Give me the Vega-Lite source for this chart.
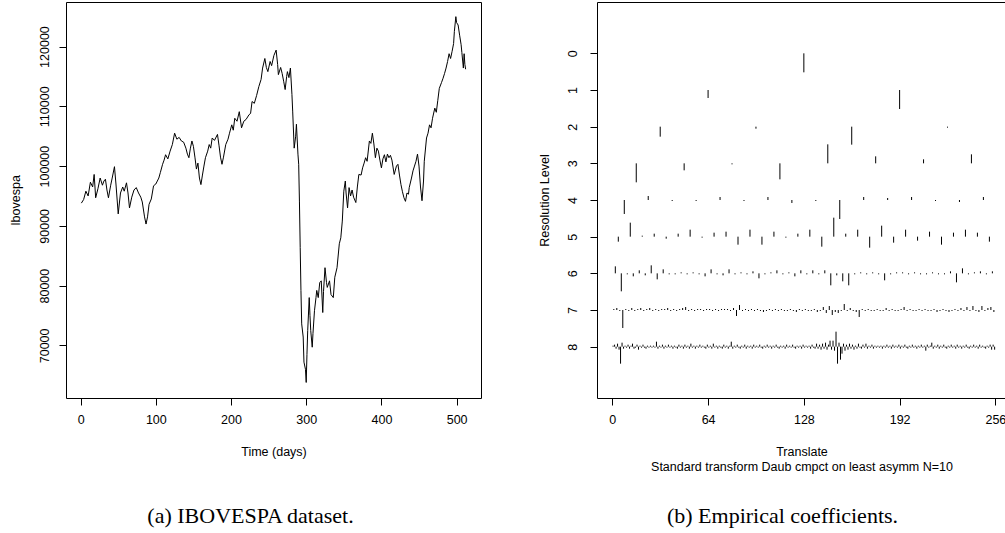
{
"$schema": "https://vega.github.io/schema/vega-lite/v6.json",
"background": "white",
"padding": {"left": 8, "top": 1, "right": 0, "bottom": 0},
"spacing": 55,
"config": {
  "font": "Liberation Sans",
  "view": {"stroke": "#000", "strokeWidth": 1},
  "axis": {"labelFont": "Liberation Sans", "labelFontSize": 12.5, "labelColor": "#000", "titleFont": "Liberation Sans", "titleFontSize": 12.5, "titleFontWeight": "normal", "titleColor": "#000", "tickColor": "#000", "tickSize": 7, "domainColor": "#000", "grid": false, "labelOverlap": false, "labelFlush": false}
},
"datasets": {
"ibov": [
{"day":1,"value":93800},{"day":4,"value":94400},{"day":7,"value":95800},{"day":10,"value":95000},{"day":13,"value":97300},{"day":16,"value":96500},{"day":18,"value":98600},{"day":20,"value":94700},{"day":23,"value":96200},{"day":26,"value":98000},{"day":29,"value":96800},{"day":31,"value":97500},{"day":33,"value":97800},{"day":35,"value":96000},{"day":37,"value":94700},{"day":40,"value":96800},{"day":42,"value":98000},{"day":45,"value":99900},{"day":47,"value":97000},{"day":50,"value":92000},{"day":53,"value":95500},{"day":56,"value":96500},{"day":58,"value":95800},{"day":61,"value":97200},{"day":63,"value":95500},{"day":65,"value":93000},{"day":68,"value":94800},{"day":71,"value":96000},{"day":74,"value":96400},{"day":77,"value":95500},{"day":80,"value":94800},{"day":82,"value":94000},{"day":85,"value":91500},{"day":87,"value":90300},{"day":89,"value":91500},{"day":91,"value":93600},{"day":94,"value":94500},{"day":97,"value":96700},{"day":100,"value":97000},{"day":102,"value":97500},{"day":104,"value":98000},{"day":106,"value":98900},{"day":109,"value":100300},{"day":111,"value":101000},{"day":113,"value":101900},{"day":116,"value":101200},{"day":119,"value":102500},{"day":122,"value":103600},{"day":125,"value":105500},{"day":128,"value":104500},{"day":131,"value":104800},{"day":134,"value":104200},{"day":137,"value":104000},{"day":140,"value":103000},{"day":142,"value":102000},{"day":144,"value":101400},{"day":146,"value":103000},{"day":148,"value":104200},{"day":150,"value":103300},{"day":152,"value":101500},{"day":154,"value":99500},{"day":156,"value":100500},{"day":158,"value":98000},{"day":160,"value":96900},{"day":162,"value":98500},{"day":164,"value":100000},{"day":166,"value":101400},{"day":169,"value":102500},{"day":171,"value":103600},{"day":173,"value":103000},{"day":175,"value":104700},{"day":178,"value":104300},{"day":182,"value":105300},{"day":184,"value":103500},{"day":186,"value":101500},{"day":188,"value":100300},{"day":190,"value":101500},{"day":193,"value":103600},{"day":196,"value":104500},{"day":198,"value":105500},{"day":201,"value":106900},{"day":203,"value":106000},{"day":205,"value":108000},{"day":208,"value":107500},{"day":211,"value":109100},{"day":214,"value":106400},{"day":217,"value":107500},{"day":220,"value":107800},{"day":224,"value":108600},{"day":226,"value":108800},{"day":228,"value":110800},{"day":231,"value":110500},{"day":234,"value":111800},{"day":237,"value":113300},{"day":240,"value":114500},{"day":242,"value":116400},{"day":245,"value":118000},{"day":247,"value":116500},{"day":249,"value":115800},{"day":252,"value":117500},{"day":254,"value":116800},{"day":257,"value":118500},{"day":260,"value":119400},{"day":262,"value":117000},{"day":263,"value":115300},{"day":266,"value":116500},{"day":268,"value":115500},{"day":270,"value":114200},{"day":272,"value":112800},{"day":274,"value":115000},{"day":275,"value":115800},{"day":277,"value":114800},{"day":279,"value":116400},{"day":281,"value":112000},{"day":282,"value":109200},{"day":284,"value":103000},{"day":286,"value":105000},{"day":287,"value":107000},{"day":289,"value":102000},{"day":290,"value":100300},{"day":291,"value":94000},{"day":292,"value":86400},{"day":293,"value":79200},{"day":294,"value":73600},{"day":296,"value":71400},{"day":297,"value":67200},{"day":299,"value":66000},{"day":300,"value":63800},{"day":301,"value":68500},{"day":302,"value":72500},{"day":304,"value":78000},{"day":305,"value":75000},{"day":306,"value":72500},{"day":308,"value":69700},{"day":309,"value":72000},{"day":311,"value":75800},{"day":313,"value":78000},{"day":314,"value":79200},{"day":316,"value":78000},{"day":318,"value":80500},{"day":320,"value":80800},{"day":322,"value":75500},{"day":323,"value":79000},{"day":325,"value":83000},{"day":327,"value":80500},{"day":328,"value":79700},{"day":331,"value":80800},{"day":333,"value":78500},{"day":336,"value":78000},{"day":338,"value":81400},{"day":341,"value":83000},{"day":344,"value":87000},{"day":346,"value":88000},{"day":348,"value":90800},{"day":350,"value":95800},{"day":352,"value":97500},{"day":353,"value":95500},{"day":355,"value":93000},{"day":357,"value":96400},{"day":359,"value":95000},{"day":361,"value":96000},{"day":363,"value":94800},{"day":366,"value":93900},{"day":368,"value":96500},{"day":370,"value":98600},{"day":373,"value":98500},{"day":375,"value":99700},{"day":377,"value":100500},{"day":379,"value":101400},{"day":381,"value":100800},{"day":384,"value":104200},{"day":386,"value":103800},{"day":388,"value":105500},{"day":390,"value":103700},{"day":392,"value":101400},{"day":394,"value":103000},{"day":396,"value":102500},{"day":398,"value":101000},{"day":400,"value":99700},{"day":402,"value":101200},{"day":404,"value":101900},{"day":406,"value":100700},{"day":408,"value":102000},{"day":410,"value":101400},{"day":412,"value":101800},{"day":414,"value":101000},{"day":417,"value":98600},{"day":420,"value":100000},{"day":422,"value":100300},{"day":424,"value":98500},{"day":426,"value":96900},{"day":428,"value":95700},{"day":430,"value":94700},{"day":432,"value":94100},{"day":434,"value":95500},{"day":436,"value":95300},{"day":437,"value":96400},{"day":440,"value":98000},{"day":442,"value":99200},{"day":444,"value":100000},{"day":446,"value":100800},{"day":448,"value":102000},{"day":450,"value":100000},{"day":452,"value":96500},{"day":454,"value":94200},{"day":456,"value":97500},{"day":457,"value":100800},{"day":460,"value":104700},{"day":462,"value":105500},{"day":464,"value":106900},{"day":466,"value":106400},{"day":468,"value":108000},{"day":471,"value":109700},{"day":473,"value":109000},{"day":475,"value":111000},{"day":477,"value":113000},{"day":480,"value":114000},{"day":482,"value":114700},{"day":484,"value":115500},{"day":486,"value":116400},{"day":488,"value":117500},{"day":490,"value":118800},{"day":492,"value":118000},{"day":494,"value":119200},{"day":496,"value":120500},{"day":497,"value":122500},{"day":499,"value":125000},{"day":500,"value":124000},{"day":502,"value":123600},{"day":504,"value":121900},{"day":506,"value":120300},{"day":507,"value":119000},{"day":509,"value":116400},{"day":510,"value":118800},{"day":511,"value":117000},{"day":512,"value":116200}
],
"wd": [
{"level":0,"translate":128,"coef":19},
{"level":1,"translate":64,"coef":8},{"level":1,"translate":192,"coef":19},
{"level":2,"translate":32,"coef":10},{"level":2,"translate":96,"coef":2},{"level":2,"translate":160,"coef":18},{"level":2,"translate":224,"coef":1},
{"level":3,"translate":16,"coef":19},{"level":3,"translate":48,"coef":7},{"level":3,"translate":80,"coef":1},{"level":3,"translate":112,"coef":16},{"level":3,"translate":144,"coef":-19},{"level":3,"translate":176,"coef":-7},{"level":3,"translate":208,"coef":-4},{"level":3,"translate":240,"coef":-9},
{"level":4,"translate":8,"coef":14},{"level":4,"translate":24,"coef":-4},{"level":4,"translate":40,"coef":1},{"level":4,"translate":56,"coef":1},{"level":4,"translate":72,"coef":-3},{"level":4,"translate":88,"coef":1},{"level":4,"translate":104,"coef":-3},{"level":4,"translate":120,"coef":3},{"level":4,"translate":136,"coef":1},{"level":4,"translate":152,"coef":19},{"level":4,"translate":168,"coef":-3},{"level":4,"translate":184,"coef":-2},{"level":4,"translate":200,"coef":-3},{"level":4,"translate":216,"coef":1},{"level":4,"translate":232,"coef":2},{"level":4,"translate":248,"coef":-3},
{"level":5,"translate":4,"coef":5},{"level":5,"translate":12,"coef":-14},{"level":5,"translate":20,"coef":-1},{"level":5,"translate":28,"coef":-3},{"level":5,"translate":36,"coef":2},{"level":5,"translate":44,"coef":-3},{"level":5,"translate":52,"coef":-7},{"level":5,"translate":60,"coef":1},{"level":5,"translate":68,"coef":-4},{"level":5,"translate":76,"coef":-5},{"level":5,"translate":84,"coef":8},{"level":5,"translate":92,"coef":-7},{"level":5,"translate":100,"coef":8},{"level":5,"translate":108,"coef":-5},{"level":5,"translate":116,"coef":1},{"level":5,"translate":124,"coef":-3},{"level":5,"translate":132,"coef":-7},{"level":5,"translate":140,"coef":10},{"level":5,"translate":148,"coef":-19},{"level":5,"translate":156,"coef":-3},{"level":5,"translate":164,"coef":-7},{"level":5,"translate":172,"coef":11},{"level":5,"translate":180,"coef":-11},{"level":5,"translate":188,"coef":6},{"level":5,"translate":196,"coef":-7},{"level":5,"translate":204,"coef":4},{"level":5,"translate":212,"coef":-5},{"level":5,"translate":220,"coef":8},{"level":5,"translate":228,"coef":-4},{"level":5,"translate":236,"coef":-7},{"level":5,"translate":244,"coef":-4},{"level":5,"translate":252,"coef":5},
{"level":6,"translate":2,"coef":-7},{"level":6,"translate":6,"coef":18},{"level":6,"translate":10,"coef":1},{"level":6,"translate":14,"coef":3},{"level":6,"translate":18,"coef":-3},{"level":6,"translate":22,"coef":2},{"level":6,"translate":26,"coef":-8},{"level":6,"translate":30,"coef":6},{"level":6,"translate":34,"coef":-4},{"level":6,"translate":38,"coef":1},{"level":6,"translate":42,"coef":1},{"level":6,"translate":46,"coef":-1},{"level":6,"translate":50,"coef":1},{"level":6,"translate":54,"coef":-1},{"level":6,"translate":58,"coef":1},{"level":6,"translate":62,"coef":3},{"level":6,"translate":66,"coef":-4},{"level":6,"translate":70,"coef":1},{"level":6,"translate":74,"coef":2},{"level":6,"translate":78,"coef":-4},{"level":6,"translate":82,"coef":1},{"level":6,"translate":86,"coef":-1},{"level":6,"translate":90,"coef":1},{"level":6,"translate":94,"coef":-2},{"level":6,"translate":98,"coef":5},{"level":6,"translate":102,"coef":1},{"level":6,"translate":106,"coef":-1},{"level":6,"translate":110,"coef":-3},{"level":6,"translate":114,"coef":1},{"level":6,"translate":118,"coef":-1},{"level":6,"translate":122,"coef":3},{"level":6,"translate":126,"coef":-3},{"level":6,"translate":130,"coef":1},{"level":6,"translate":134,"coef":-3},{"level":6,"translate":138,"coef":1},{"level":6,"translate":142,"coef":-3},{"level":6,"translate":146,"coef":12},{"level":6,"translate":150,"coef":2},{"level":6,"translate":154,"coef":8},{"level":6,"translate":158,"coef":12},{"level":6,"translate":162,"coef":1},{"level":6,"translate":166,"coef":-1},{"level":6,"translate":170,"coef":1},{"level":6,"translate":174,"coef":-1},{"level":6,"translate":178,"coef":1},{"level":6,"translate":182,"coef":7},{"level":6,"translate":186,"coef":1},{"level":6,"translate":190,"coef":-1},{"level":6,"translate":194,"coef":-1},{"level":6,"translate":198,"coef":1},{"level":6,"translate":202,"coef":-1},{"level":6,"translate":206,"coef":1},{"level":6,"translate":210,"coef":1},{"level":6,"translate":214,"coef":-1},{"level":6,"translate":218,"coef":1},{"level":6,"translate":222,"coef":1},{"level":6,"translate":226,"coef":-2},{"level":6,"translate":230,"coef":9},{"level":6,"translate":234,"coef":-5},{"level":6,"translate":238,"coef":1},{"level":6,"translate":242,"coef":-1},{"level":6,"translate":246,"coef":-2},{"level":6,"translate":250,"coef":1},{"level":6,"translate":254,"coef":-2},
{"level":7,"translate":1,"coef":-1},{"level":7,"translate":3,"coef":-2},{"level":7,"translate":5,"coef":1},{"level":7,"translate":7,"coef":18},{"level":7,"translate":9,"coef":-1},{"level":7,"translate":11,"coef":1},{"level":7,"translate":13,"coef":-2},{"level":7,"translate":15,"coef":1},{"level":7,"translate":17,"coef":-1},{"level":7,"translate":19,"coef":-2},
{"level":7,"translate":21,"coef":1},{"level":7,"translate":23,"coef":-1},{"level":7,"translate":25,"coef":-2},{"level":7,"translate":27,"coef":1},{"level":7,"translate":29,"coef":-1},{"level":7,"translate":31,"coef":1},{"level":7,"translate":33,"coef":-1},{"level":7,"translate":35,"coef":-1},{"level":7,"translate":37,"coef":-2},{"level":7,"translate":39,"coef":1},
{"level":7,"translate":41,"coef":-1},{"level":7,"translate":43,"coef":1},{"level":7,"translate":45,"coef":-1},{"level":7,"translate":47,"coef":-2},{"level":7,"translate":49,"coef":-3},{"level":7,"translate":51,"coef":1},{"level":7,"translate":53,"coef":-1},{"level":7,"translate":55,"coef":1},{"level":7,"translate":57,"coef":-1},{"level":7,"translate":59,"coef":-1},
{"level":7,"translate":61,"coef":1},{"level":7,"translate":63,"coef":-1},{"level":7,"translate":65,"coef":-1},{"level":7,"translate":67,"coef":1},{"level":7,"translate":69,"coef":-1},{"level":7,"translate":71,"coef":1},{"level":7,"translate":73,"coef":-1},{"level":7,"translate":75,"coef":-1},{"level":7,"translate":77,"coef":-1},{"level":7,"translate":79,"coef":1},
{"level":7,"translate":81,"coef":-2},{"level":7,"translate":83,"coef":6},{"level":7,"translate":85,"coef":-5},{"level":7,"translate":87,"coef":1},{"level":7,"translate":89,"coef":-1},{"level":7,"translate":91,"coef":1},{"level":7,"translate":93,"coef":-1},{"level":7,"translate":95,"coef":1},{"level":7,"translate":97,"coef":-1},{"level":7,"translate":99,"coef":1},
{"level":7,"translate":101,"coef":2},{"level":7,"translate":103,"coef":1},{"level":7,"translate":105,"coef":-1},{"level":7,"translate":107,"coef":1},{"level":7,"translate":109,"coef":-1},{"level":7,"translate":111,"coef":1},{"level":7,"translate":113,"coef":-1},{"level":7,"translate":115,"coef":1},{"level":7,"translate":117,"coef":1},{"level":7,"translate":119,"coef":-1},
{"level":7,"translate":121,"coef":1},{"level":7,"translate":123,"coef":2},{"level":7,"translate":125,"coef":-1},{"level":7,"translate":127,"coef":1},{"level":7,"translate":129,"coef":-1},{"level":7,"translate":131,"coef":1},{"level":7,"translate":133,"coef":1},{"level":7,"translate":135,"coef":-1},{"level":7,"translate":137,"coef":2},{"level":7,"translate":139,"coef":1},
{"level":7,"translate":141,"coef":-3},{"level":7,"translate":143,"coef":3},{"level":7,"translate":145,"coef":-4},{"level":7,"translate":147,"coef":5},{"level":7,"translate":149,"coef":2},{"level":7,"translate":151,"coef":3},{"level":7,"translate":153,"coef":1},{"level":7,"translate":155,"coef":-6},{"level":7,"translate":157,"coef":1},{"level":7,"translate":159,"coef":-2},
{"level":7,"translate":161,"coef":1},{"level":7,"translate":163,"coef":2},{"level":7,"translate":165,"coef":7},{"level":7,"translate":167,"coef":-1},{"level":7,"translate":169,"coef":1},{"level":7,"translate":171,"coef":-1},{"level":7,"translate":173,"coef":1},{"level":7,"translate":175,"coef":1},{"level":7,"translate":177,"coef":-1},{"level":7,"translate":179,"coef":1},
{"level":7,"translate":181,"coef":1},{"level":7,"translate":183,"coef":-2},{"level":7,"translate":185,"coef":1},{"level":7,"translate":187,"coef":-1},{"level":7,"translate":189,"coef":1},{"level":7,"translate":191,"coef":1},{"level":7,"translate":193,"coef":-1},{"level":7,"translate":195,"coef":-3},{"level":7,"translate":197,"coef":1},{"level":7,"translate":199,"coef":-1},
{"level":7,"translate":201,"coef":1},{"level":7,"translate":203,"coef":1},{"level":7,"translate":205,"coef":-1},{"level":7,"translate":207,"coef":1},{"level":7,"translate":209,"coef":-1},{"level":7,"translate":211,"coef":1},{"level":7,"translate":213,"coef":1},{"level":7,"translate":215,"coef":-1},{"level":7,"translate":217,"coef":2},{"level":7,"translate":219,"coef":1},
{"level":7,"translate":221,"coef":-1},{"level":7,"translate":223,"coef":1},{"level":7,"translate":225,"coef":2},{"level":7,"translate":227,"coef":1},{"level":7,"translate":229,"coef":-1},{"level":7,"translate":231,"coef":1},{"level":7,"translate":233,"coef":-2},{"level":7,"translate":235,"coef":1},{"level":7,"translate":237,"coef":-3},{"level":7,"translate":239,"coef":1},
{"level":7,"translate":241,"coef":-4},{"level":7,"translate":243,"coef":1},{"level":7,"translate":245,"coef":2},{"level":7,"translate":247,"coef":-4},{"level":7,"translate":249,"coef":1},{"level":7,"translate":251,"coef":-2},{"level":7,"translate":253,"coef":-3},{"level":7,"translate":255,"coef":2},
{"level":8,"translate":0.5,"coef":-1},{"level":8,"translate":1.5,"coef":-2},{"level":8,"translate":2.5,"coef":2},{"level":8,"translate":3.5,"coef":-3},{"level":8,"translate":4.5,"coef":3},{"level":8,"translate":5.5,"coef":17},{"level":8,"translate":6.5,"coef":-4},{"level":8,"translate":7.5,"coef":2},{"level":8,"translate":8.5,"coef":-1},{"level":8,"translate":9.5,"coef":1},
{"level":8,"translate":10.5,"coef":-2},{"level":8,"translate":11.5,"coef":2},{"level":8,"translate":12.5,"coef":-1},{"level":8,"translate":13.5,"coef":-3},{"level":8,"translate":14.5,"coef":2},{"level":8,"translate":15.5,"coef":1},{"level":8,"translate":16.5,"coef":-2},{"level":8,"translate":17.5,"coef":3},{"level":8,"translate":18.5,"coef":-1},{"level":8,"translate":19.5,"coef":1},
{"level":8,"translate":20.5,"coef":-2},{"level":8,"translate":21.5,"coef":1},{"level":8,"translate":22.5,"coef":2},{"level":8,"translate":23.5,"coef":-1},{"level":8,"translate":24.5,"coef":1},{"level":8,"translate":25.5,"coef":-1},{"level":8,"translate":26.5,"coef":1},{"level":8,"translate":27.5,"coef":-1},{"level":8,"translate":28.5,"coef":1},{"level":8,"translate":29.5,"coef":-5},
{"level":8,"translate":30.5,"coef":2},{"level":8,"translate":31.5,"coef":-1},{"level":8,"translate":32.5,"coef":1},{"level":8,"translate":33.5,"coef":-2},{"level":8,"translate":34.5,"coef":2},{"level":8,"translate":35.5,"coef":-1},{"level":8,"translate":36.5,"coef":1},{"level":8,"translate":37.5,"coef":-2},{"level":8,"translate":38.5,"coef":1},{"level":8,"translate":39.5,"coef":-1},
{"level":8,"translate":40.5,"coef":2},{"level":8,"translate":41.5,"coef":-1},{"level":8,"translate":42.5,"coef":1},{"level":8,"translate":43.5,"coef":2},{"level":8,"translate":44.5,"coef":-2},{"level":8,"translate":45.5,"coef":1},{"level":8,"translate":46.5,"coef":-1},{"level":8,"translate":47.5,"coef":2},{"level":8,"translate":48.5,"coef":-2},{"level":8,"translate":49.5,"coef":1},
{"level":8,"translate":50.5,"coef":-1},{"level":8,"translate":51.5,"coef":2},{"level":8,"translate":52.5,"coef":-3},{"level":8,"translate":53.5,"coef":1},{"level":8,"translate":54.5,"coef":-1},{"level":8,"translate":55.5,"coef":2},{"level":8,"translate":56.5,"coef":-1},{"level":8,"translate":57.5,"coef":1},{"level":8,"translate":58.5,"coef":-2},{"level":8,"translate":59.5,"coef":1},
{"level":8,"translate":60.5,"coef":-1},{"level":8,"translate":61.5,"coef":1},{"level":8,"translate":62.5,"coef":2},{"level":8,"translate":63.5,"coef":-2},{"level":8,"translate":64.5,"coef":1},{"level":8,"translate":65.5,"coef":-1},{"level":8,"translate":66.5,"coef":2},{"level":8,"translate":67.5,"coef":-3},{"level":8,"translate":68.5,"coef":1},{"level":8,"translate":69.5,"coef":-1},
{"level":8,"translate":70.5,"coef":2},{"level":8,"translate":71.5,"coef":-1},{"level":8,"translate":72.5,"coef":1},{"level":8,"translate":73.5,"coef":2},{"level":8,"translate":74.5,"coef":-2},{"level":8,"translate":75.5,"coef":1},{"level":8,"translate":76.5,"coef":-1},{"level":8,"translate":77.5,"coef":2},{"level":8,"translate":78.5,"coef":-1},{"level":8,"translate":79.5,"coef":-5},
{"level":8,"translate":80.5,"coef":2},{"level":8,"translate":81.5,"coef":-1},{"level":8,"translate":82.5,"coef":1},{"level":8,"translate":83.5,"coef":-2},{"level":8,"translate":84.5,"coef":1},{"level":8,"translate":85.5,"coef":2},{"level":8,"translate":86.5,"coef":-1},{"level":8,"translate":87.5,"coef":1},{"level":8,"translate":88.5,"coef":-2},{"level":8,"translate":89.5,"coef":2},
{"level":8,"translate":90.5,"coef":-1},{"level":8,"translate":91.5,"coef":1},{"level":8,"translate":92.5,"coef":-1},{"level":8,"translate":93.5,"coef":2},{"level":8,"translate":94.5,"coef":-2},{"level":8,"translate":95.5,"coef":1},{"level":8,"translate":96.5,"coef":-1},{"level":8,"translate":97.5,"coef":1},{"level":8,"translate":98.5,"coef":-2},{"level":8,"translate":99.5,"coef":1},
{"level":8,"translate":100.5,"coef":2},{"level":8,"translate":101.5,"coef":-1},{"level":8,"translate":102.5,"coef":1},{"level":8,"translate":103.5,"coef":-2},{"level":8,"translate":104.5,"coef":1},{"level":8,"translate":105.5,"coef":-1},{"level":8,"translate":106.5,"coef":2},{"level":8,"translate":107.5,"coef":-1},{"level":8,"translate":108.5,"coef":1},{"level":8,"translate":109.5,"coef":-2},
{"level":8,"translate":110.5,"coef":1},{"level":8,"translate":111.5,"coef":2},{"level":8,"translate":112.5,"coef":-1},{"level":8,"translate":113.5,"coef":1},{"level":8,"translate":114.5,"coef":-1},{"level":8,"translate":115.5,"coef":2},{"level":8,"translate":116.5,"coef":-2},{"level":8,"translate":117.5,"coef":1},{"level":8,"translate":118.5,"coef":-1},{"level":8,"translate":119.5,"coef":1},
{"level":8,"translate":120.5,"coef":-2},{"level":8,"translate":121.5,"coef":1},{"level":8,"translate":122.5,"coef":2},{"level":8,"translate":123.5,"coef":-1},{"level":8,"translate":124.5,"coef":1},{"level":8,"translate":125.5,"coef":-1},{"level":8,"translate":126.5,"coef":2},{"level":8,"translate":127.5,"coef":-2},{"level":8,"translate":128.5,"coef":1},{"level":8,"translate":129.5,"coef":-1},
{"level":8,"translate":130.5,"coef":1},{"level":8,"translate":131.5,"coef":-1},{"level":8,"translate":132.5,"coef":2},{"level":8,"translate":133.5,"coef":-2},{"level":8,"translate":134.5,"coef":1},{"level":8,"translate":135.5,"coef":2},{"level":8,"translate":136.5,"coef":-3},{"level":8,"translate":137.5,"coef":2},{"level":8,"translate":138.5,"coef":-2},{"level":8,"translate":139.5,"coef":3},
{"level":8,"translate":140.5,"coef":-3},{"level":8,"translate":141.5,"coef":2},{"level":8,"translate":142.5,"coef":-4},{"level":8,"translate":143.5,"coef":3},{"level":8,"translate":144.5,"coef":-2},{"level":8,"translate":145.5,"coef":-6},{"level":8,"translate":146.5,"coef":3},{"level":8,"translate":147.5,"coef":-6},{"level":8,"translate":148.5,"coef":4},{"level":8,"translate":149.5,"coef":-15},
{"level":8,"translate":150.5,"coef":17},{"level":8,"translate":151.5,"coef":-4},{"level":8,"translate":152.5,"coef":13},{"level":8,"translate":153.5,"coef":7},{"level":8,"translate":154.5,"coef":-3},{"level":8,"translate":155.5,"coef":4},{"level":8,"translate":156.5,"coef":-2},{"level":8,"translate":157.5,"coef":3},{"level":8,"translate":158.5,"coef":-3},{"level":8,"translate":159.5,"coef":2},
{"level":8,"translate":160.5,"coef":-2},{"level":8,"translate":161.5,"coef":3},{"level":8,"translate":162.5,"coef":-1},{"level":8,"translate":163.5,"coef":2},{"level":8,"translate":164.5,"coef":-3},{"level":8,"translate":165.5,"coef":1},{"level":8,"translate":166.5,"coef":2},{"level":8,"translate":167.5,"coef":-2},{"level":8,"translate":168.5,"coef":1},{"level":8,"translate":169.5,"coef":-3},
{"level":8,"translate":170.5,"coef":2},{"level":8,"translate":171.5,"coef":-1},{"level":8,"translate":172.5,"coef":1},{"level":8,"translate":173.5,"coef":-2},{"level":8,"translate":174.5,"coef":2},{"level":8,"translate":175.5,"coef":-1},{"level":8,"translate":176.5,"coef":1},{"level":8,"translate":177.5,"coef":-1},{"level":8,"translate":178.5,"coef":1},{"level":8,"translate":179.5,"coef":-1},
{"level":8,"translate":180.5,"coef":2},{"level":8,"translate":181.5,"coef":-1},{"level":8,"translate":182.5,"coef":1},{"level":8,"translate":183.5,"coef":-2},{"level":8,"translate":184.5,"coef":1},{"level":8,"translate":185.5,"coef":-1},{"level":8,"translate":186.5,"coef":2},{"level":8,"translate":187.5,"coef":-2},{"level":8,"translate":188.5,"coef":1},{"level":8,"translate":189.5,"coef":-1},
{"level":8,"translate":190.5,"coef":1},{"level":8,"translate":191.5,"coef":-2},{"level":8,"translate":192.5,"coef":2},{"level":8,"translate":193.5,"coef":-1},{"level":8,"translate":194.5,"coef":1},{"level":8,"translate":195.5,"coef":-2},{"level":8,"translate":196.5,"coef":1},{"level":8,"translate":197.5,"coef":2},{"level":8,"translate":198.5,"coef":-1},{"level":8,"translate":199.5,"coef":1},
{"level":8,"translate":200.5,"coef":-2},{"level":8,"translate":201.5,"coef":1},{"level":8,"translate":202.5,"coef":-1},{"level":8,"translate":203.5,"coef":2},{"level":8,"translate":204.5,"coef":-1},{"level":8,"translate":205.5,"coef":1},{"level":8,"translate":206.5,"coef":-2},{"level":8,"translate":207.5,"coef":1},{"level":8,"translate":208.5,"coef":-1},{"level":8,"translate":209.5,"coef":4},
{"level":8,"translate":210.5,"coef":-2},{"level":8,"translate":211.5,"coef":1},{"level":8,"translate":212.5,"coef":-1},{"level":8,"translate":213.5,"coef":-4},{"level":8,"translate":214.5,"coef":2},{"level":8,"translate":215.5,"coef":-1},{"level":8,"translate":216.5,"coef":1},{"level":8,"translate":217.5,"coef":-2},{"level":8,"translate":218.5,"coef":2},{"level":8,"translate":219.5,"coef":-1},
{"level":8,"translate":220.5,"coef":1},{"level":8,"translate":221.5,"coef":-2},{"level":8,"translate":222.5,"coef":1},{"level":8,"translate":223.5,"coef":2},{"level":8,"translate":224.5,"coef":-1},{"level":8,"translate":225.5,"coef":1},{"level":8,"translate":226.5,"coef":-2},{"level":8,"translate":227.5,"coef":1},{"level":8,"translate":228.5,"coef":-1},{"level":8,"translate":229.5,"coef":2},
{"level":8,"translate":230.5,"coef":-2},{"level":8,"translate":231.5,"coef":1},{"level":8,"translate":232.5,"coef":-1},{"level":8,"translate":233.5,"coef":2},{"level":8,"translate":234.5,"coef":-1},{"level":8,"translate":235.5,"coef":1},{"level":8,"translate":236.5,"coef":-2},{"level":8,"translate":237.5,"coef":1},{"level":8,"translate":238.5,"coef":2},{"level":8,"translate":239.5,"coef":-1},
{"level":8,"translate":240.5,"coef":1},{"level":8,"translate":241.5,"coef":-2},{"level":8,"translate":242.5,"coef":1},{"level":8,"translate":243.5,"coef":-1},{"level":8,"translate":244.5,"coef":2},{"level":8,"translate":245.5,"coef":-2},{"level":8,"translate":246.5,"coef":1},{"level":8,"translate":247.5,"coef":-1},{"level":8,"translate":248.5,"coef":1},{"level":8,"translate":249.5,"coef":2},
{"level":8,"translate":250.5,"coef":-1},{"level":8,"translate":251.5,"coef":1},{"level":8,"translate":252.5,"coef":-2},{"level":8,"translate":253.5,"coef":3},{"level":8,"translate":254.5,"coef":-2},{"level":8,"translate":255.5,"coef":3}
]
},
"hconcat": [
{
  "width": 415, "height": 396,
  "data": {"name": "ibov"},
  "mark": {"type": "line", "color": "#000", "strokeWidth": 1},
  "encoding": {
    "x": {"field": "day", "type": "quantitative", "scale": {"domain": [-19.44, 532.44], "nice": false, "zero": false},
          "axis": {"values": [0,100,200,300,400,500], "title": "Time (days)", "domain": false, "labelPadding": 8, "titlePadding": 20}},
    "y": {"field": "value", "type": "quantitative", "scale": {"domain": [61200, 127450], "nice": false, "zero": false},
          "axis": {"values": [70000,80000,90000,100000,110000,120000], "format": "d", "labelAngle": -90, "labelAlign": "center", "labelBaseline": "bottom", "title": "Ibovespa", "domain": false, "labelPadding": 8, "titlePadding": 16}}
  },
  "title": {"text": "(a) IBOVESPA dataset.", "orient": "bottom", "frame": "group", "anchor": "middle", "font": "Liberation Serif", "fontSize": 22, "fontWeight": "normal", "color": "#000", "offset": 48, "dx": -23}
},
{
  "width": 409, "height": 396,
  "view": {"stroke": null},
  "data": {"name": "wd"},
  "transform": [{"calculate": "datum.level + datum.coef * 0.02727", "as": "tip"}],
  "layer": [
    {
      "mark": {"type": "rule", "color": "#000", "strokeWidth": 1},
      "encoding": {
        "x": {"field": "translate", "type": "quantitative", "scale": {"domain": [-10.24, 263.1], "nice": false, "zero": false},
              "axis": {"values": [0,64,128,192,256], "title": ["Translate", "Standard transform Daub cmpct on least asymm N=10"], "titleLineHeight": 15, "domain": true, "labelPadding": 8, "titlePadding": 20}},
        "y": {"field": "level", "type": "quantitative", "scale": {"domain": [-1.4, 9.4], "reverse": true, "nice": false, "zero": false},
              "axis": {"values": [0,1,2,3,4,5,6,7,8], "labelAngle": -90, "labelAlign": "center", "labelBaseline": "bottom", "title": "Resolution Level", "domain": true, "labelPadding": 11, "titlePadding": 15}},
        "y2": {"field": "tip"}
      }
    },
    {
      "mark": {"type": "point", "opacity": 0},
      "encoding": {
        "x": {"field": "translate", "type": "quantitative", "axis": {"orient": "top", "title": null, "labels": false, "ticks": false, "domain": true}},
        "y": {"field": "level", "type": "quantitative"}
      }
    }
  ],
  "resolve": {"axis": {"x": "independent"}},
  "title": {"text": "(b) Empirical coefficients.", "orient": "bottom", "frame": "group", "anchor": "middle", "font": "Liberation Serif", "fontSize": 22, "fontWeight": "normal", "color": "#000", "offset": 33, "dx": -19}
}
]
}
